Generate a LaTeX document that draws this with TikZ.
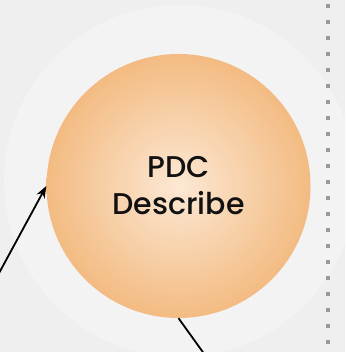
\documentclass[tikz,border=0pt]{standalone}
\usepackage{fontspec}
\setmainfont{Poppins}[UprightFont={* Medium}]
\usetikzlibrary{arrows.meta}
\definecolor{pagebg}{HTML}{EFEFEF}
\definecolor{halo}{HTML}{F3F3F3}
\definecolor{peachin}{HTML}{FCE8D4}
\definecolor{peachout}{HTML}{F3BB82}
\definecolor{dotgray}{HTML}{9A9A9A}
\definecolor{ink}{HTML}{111111}
\tikzset{
  core/.style={circle, minimum size=264pt, inner sep=0pt,
    inner color=peachin, outer color=peachout, text=ink,
    font=\fontsize{30}{37}\selectfont, align=center},
  link/.style={line width=1.8pt, draw=black},
  dotmark/.style={fill=dotgray},
}
\begin{document}
\begin{tikzpicture}[x=1pt,y=-1pt]
  \useasboundingbox (0,0) rectangle (345,352);
  \clip (0,0) rectangle (345,352);
  \fill[pagebg] (0,0) rectangle (345,352);
  % soft halo behind the main disc
  \fill[halo] (180,181) circle (176);
  % dotted separator on the right
  \foreach \k in {0,...,21}
    \fill[dotmark] (326,{4+16*\k}) rectangle +(4,4);
  % main disc
  \node[core] (pdc) at (178.5,186) {PDC\\Describe};
  % connectors
  \coordinate (inA) at (-2,275);
  \coordinate (outB) at (210,362);
  \draw[link, -{Stealth[length=12pt,width=9pt]}] (inA) -- (pdc.west);
  \draw[link] (pdc.south) -- (outB);
\end{tikzpicture}
\end{document}
